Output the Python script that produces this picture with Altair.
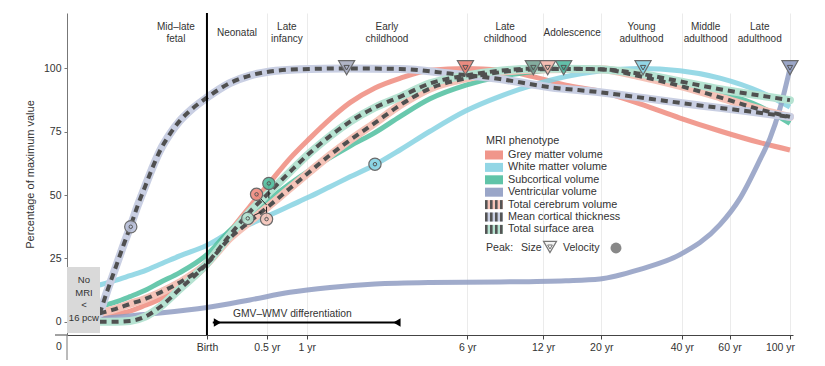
import math
import pandas as pd
import altair as alt

FONT = "Liberation Sans"
TXT = "#333333"

# ---------------- axes ----------------
TICK_YEARS = [0, 0.5, 1, 6, 12, 20, 40, 60, 100]
TICK_LABELS = ["Birth", "0.5 yr", "1 yr", "6 yr", "12 yr", "20 yr", "40 yr", "60 yr", "100 yr"]
BIRTH_DAYS = 280  # days post-conception at birth
X_DOMAIN = [86.8, 37750]
Y_DOMAIN = [-5.25, 121.9]
Y_TICKS = [0, 25, 50, 75, 100]

PERIOD_LABELS = ["Mid–late\nfetal", "Neonatal", "Late\ninfancy", "Early\nchildhood",
                 "Late\nchildhood", "Adolescence", "Young\nadulthood", "Middle\nadulthood",
                 "Late\nadulthood"]
FETAL_LABEL_DAYS = 216

# ---------------- curves (age in days post-conception, % of max) ----------------
AGE_DAYS = [114, 130, 147, 167, 189, 223, 280, 339, 401, 474, 561, 663, 784, 927,
            1142, 1408, 1810, 2446, 3251, 4284, 5648, 7507, 10492, 14663, 20488, 28635, 36805]
GMV = [2.2, 3.0, 4.2, 6.5, 9.0, 13.5, 22.0, 35.5, 45.5, 55.0, 64.5, 72.5, 80.0, 86.5,
       92.3, 96.1, 99.3, 100.0, 99.4, 96.8, 93.4, 91.0, 86.0, 80.4, 75.3, 70.7, 67.8]
WMV = [14.5, 16.3, 18.2, 20.2, 22.7, 26.0, 30.2, 35.2, 38.5, 42.1, 45.8, 49.4, 53.3, 57.2,
       62.0, 67.8, 75.2, 83.3, 89.0, 93.4, 96.8, 99.0, 100.0, 99.1, 96.2, 90.8, 84.8]
SGMV = [5.9, 7.7, 9.9, 12.4, 15.5, 19.4, 26.5, 36.0, 42.1, 48.5, 54.5, 59.9, 64.8, 69.4,
        74.7, 81.0, 88.0, 93.4, 96.8, 98.7, 99.8, 100.0, 97.9, 94.6, 90.6, 85.0, 78.3]
TCV = [3.3, 5.0, 7.0, 9.0, 11.5, 15.5, 23.0, 33.0, 39.6, 46.0, 52.7, 59.3, 65.8, 71.7,
       78.5, 85.5, 92.1, 96.1, 98.5, 99.6, 99.8, 99.7, 96.9, 93.1, 88.6, 83.8, 80.9]
SA = [0.0, 0.0, 0.3, 2.0, 5.8, 12.9, 23.0, 34.2, 43.4, 51.3, 59.2, 66.7, 73.3, 79.0,
      84.6, 88.8, 94.1, 97.2, 99.1, 99.9, 99.9, 99.7, 97.9, 94.9, 91.8, 89.3, 87.5]

VENT_AGE = [114, 147, 189, 280, 401, 561, 784, 1142, 1810, 3251, 5648, 7507, 10492,
            14663, 20488, 24222, 28635, 31133, 33851, 36805]
VENT = [1.3, 2.3, 3.4, 5.6, 8.6, 11.6, 13.5, 14.9, 15.5, 15.7, 16.2, 16.9, 20.7,
        26.5, 38.3, 48.7, 64.0, 72.4, 84.2, 100.0]

CT_AGE = [114, 121, 130, 139, 148, 157, 167, 177, 189, 205, 223, 247, 280, 339, 401,
          474, 610, 888, 1408, 2139, 3251, 4939, 7507, 11405, 17330, 26333, 36805]
CT = [3.0, 11.5, 21.0, 30.0, 38.0, 46.0, 53.5, 60.5, 67.5, 74.0, 79.3, 84.0, 88.5, 94.2,
      97.2, 98.8, 99.7, 100.0, 99.8, 98.0, 95.8, 92.6, 90.6, 88.0, 85.4, 83.0, 80.9]

# ---------------- phenotypes ----------------
PHENO = ["Grey matter volume", "White matter volume", "Subcortical volume", "Ventricular volume",
         "Total cerebrum volume", "Mean cortical thickness", "Total surface area"]
SOLID_COL = ["#EE8B7E", "#86D2E2", "#4FBE9F", "#8F9CC2"]
BAND_COL = ["#F5C3B8", "#C9CFE3", "#B6E3D2"]
DASH_COL = "#505050"

# peaks of size (years after birth)
PEAK_PHENO = ["Mean cortical thickness", "Grey matter volume", "Total surface area",
              "Total cerebrum volume", "Subcortical volume", "White matter volume",
              "Ventricular volume"]
PEAK_YEARS = [1.7, 5.9, 11.0, 12.5, 14.4, 28.7, 100.0]
PEAK_FILL = ["#A3A8BC", "#E5786B", "#6F9E8E", "#F2B2A6", "#48B49A", "#7FCEE0", "#8A97BD"]

# peaks of velocity: marker position and the curve point it refers to
VEL_PHENO = ["Mean cortical thickness", "White matter volume", "Grey matter volume",
             "Subcortical volume", "Total surface area", "Total cerebrum volume"]
VEL_AGE = [148, 1142, 424, 470, 394, 461]
VEL_VAL = [37.5, 62.2, 50.3, 54.6, 40.8, 40.5]
VEL_END_AGE = [148, 1142, 461, 470, 442, 461]
VEL_END_VAL = [37.5, 62.2, 46.1, 48.7, 43.4, 45.4]
VEL_FILL = ["#B9C0D8", "#86D2E2", "#EE8B7E", "#4FBE9F", "#B6E3D2", "#F5C3B8"]

# GMV–WMV differentiation arrow (days post-conception)
ARROW_AGE = [294, 1408]
ARROW_HEAD_AGE = [305.7, 1373]

W, H = 726, 322


def yr2days(y):
    return BIRTH_DAYS + y * 365.25


tick_days = [yr2days(y) for y in TICK_YEARS]
bounds = [math.sqrt(a * b) for a, b in zip(tick_days[:-1], tick_days[1:])]
label_expr = "".join(f"datum.value < {b:.1f} ? '{l}' : " for b, l in zip(bounds, TICK_LABELS[:-1])) \
    + f"'{TICK_LABELS[-1]}'"

xscale = alt.Scale(type="log", domain=X_DOMAIN, nice=False)
yscale = alt.Scale(domain=Y_DOMAIN, nice=False, zero=False)
xaxis = alt.Axis(values=tick_days, labelExpr=label_expr, grid=True, gridColor="#EBEBEB",
                 gridWidth=1, tickSize=4, tickColor="#444", domainColor="#444",
                 labelFontSize=10.5, labelColor=TXT, labelPadding=3, title=None,
                 labelOffset={"condition": {"test": "datum.value > 30000", "value": -10}, "value": 0})
yaxis = alt.Axis(values=Y_TICKS, grid=False, tickSize=3, tickColor="#777", domainColor="#777",
                 labelFontSize=10.5, labelColor=TXT, labelPadding=3,
                 title="Percentage of maximum value", titleFontSize=11, titleFontWeight="normal",
                 titleColor=TXT, titleX=-37, titleY=H / 2, titleAngle=270, titleAlign="center",
                 titleBaseline="middle")


def X(f="age"):
    return alt.X(f"{f}:Q", scale=xscale, axis=xaxis)


def Y(f="value"):
    return alt.Y(f"{f}:Q", scale=yscale, axis=yaxis)


# data frames
solid_rows = []
for name, col, vals, ages in [(PHENO[0], SOLID_COL[0], GMV, AGE_DAYS), (PHENO[1], SOLID_COL[1], WMV, AGE_DAYS),
                              (PHENO[2], SOLID_COL[2], SGMV, AGE_DAYS), (PHENO[3], SOLID_COL[3], VENT, VENT_AGE)]:
    for a, v in zip(ages, vals):
        solid_rows.append({"pheno": name, "col": col, "age": a, "value": v})
solid_df = pd.DataFrame(solid_rows)

dash_rows = []
for name, col, vals, ages in [(PHENO[4], BAND_COL[0], TCV, AGE_DAYS), (PHENO[5], BAND_COL[1], CT, CT_AGE),
                              (PHENO[6], BAND_COL[2], SA, AGE_DAYS)]:
    for a, v in zip(ages, vals):
        dash_rows.append({"pheno": name, "col": col, "age": a, "value": v})
dash_df = pd.DataFrame(dash_rows)

peak_df = pd.DataFrame({"pheno": PEAK_PHENO, "age": [yr2days(y) for y in PEAK_YEARS],
                        "value": [100.3] * len(PEAK_YEARS), "fill": PEAK_FILL})
vel_df = pd.DataFrame({"pheno": VEL_PHENO, "age": VEL_AGE, "value": VEL_VAL,
                       "age2": VEL_END_AGE, "value2": VEL_END_VAL, "fill": VEL_FILL})
conn_df = vel_df[(vel_df.age != vel_df.age2) | (vel_df.value != vel_df.value2)]

period_age = [FETAL_LABEL_DAYS] + bounds
period_df = pd.DataFrame({"age": period_age, "text": PERIOD_LABELS})
period_df["lines"] = period_df["text"].str.count("\n") + 1

solid = alt.Chart(solid_df).mark_line(strokeWidth=5, opacity=0.85, interpolate="monotone").encode(
    x=X(), y=Y(), color=alt.Color("col:N", scale=None))
band = alt.Chart(dash_df).mark_line(strokeWidth=8, interpolate="monotone", strokeCap="round").encode(
    x=X(), y=Y(), color=alt.Color("col:N", scale=None))
dash = alt.Chart(dash_df).mark_line(strokeWidth=4, strokeDash=[7, 5], color=DASH_COL,
                                    interpolate="monotone").encode(x=X(), y=Y(), detail="pheno:N")

birth = alt.Chart(pd.DataFrame({"age": [BIRTH_DAYS]})).mark_rule(color="black", strokeWidth=2).encode(x=X())

periods1 = alt.Chart(period_df[period_df.lines == 1]).mark_text(
    fontSize=10, color=TXT, baseline="middle", align="center").encode(
    x=X(), y=alt.value(20), text="text:N")
periods2 = alt.Chart(period_df[period_df.lines == 2]).mark_text(
    lineBreak="\n", fontSize=10, color=TXT, baseline="middle", align="center", lineHeight=12).encode(
    x=X(), y=alt.value(14), text="text:N")

box_df = pd.DataFrame({"age": [X_DOMAIN[0]], "age2": [114.4], "value": [-4.5], "value2": [21.6]})
box = alt.Chart(box_df).mark_rect(color="#D9D9D9").encode(x=X(), x2="age2:Q", y=Y(), y2="value2:Q")
box_txt = alt.Chart(pd.DataFrame({"age": [100], "value": [16.4], "text": ["No\nMRI\n<\n16 pcw"]})).mark_text(
    lineBreak="\n", fontSize=9.5, color=TXT, lineHeight=12.6, baseline="middle", align="center").encode(
    x=X(), y=Y(), text="text:N")

arrow_df = pd.DataFrame({"age": [ARROW_AGE[0]], "age2": [ARROW_AGE[1]], "value": [-0.3]})
arrow = alt.Chart(arrow_df).mark_rule(color="black", strokeWidth=2).encode(x=X(), x2="age2:Q", y=Y())
heads_df = pd.DataFrame({"age": ARROW_HEAD_AGE, "value": [-0.3, -0.3],
                         "shape": ["triangle-right", "triangle-left"]})
heads = alt.Chart(heads_df).mark_point(filled=True, color="black", size=70, opacity=1).encode(
    x=X(), y=Y(), shape=alt.Shape("shape:N", scale=None))
arrow_txt = alt.Chart(pd.DataFrame({"age": [348], "value": [3.0], "text": ["GMV–WMV differentiation"]})).mark_text(
    fontSize=10.3, color=TXT, align="left", baseline="middle").encode(x=X(), y=Y(), text="text:N")

# markers
conn = alt.Chart(conn_df).mark_rule(color="#222", strokeWidth=1).encode(x=X(), x2="age2:Q", y=Y(), y2="value2:Q")
vel = alt.Chart(vel_df).mark_point(shape="circle", size=150, filled=True, stroke="#6a6a6a",
                                   strokeWidth=1.2, opacity=1, fillOpacity=0.9).encode(
    x=X(), y=Y(), fill=alt.Fill("fill:N", scale=None))
vel_in = alt.Chart(vel_df).mark_point(shape="circle", size=12, filled=False, color="#555",
                                      strokeWidth=1, opacity=1).encode(x=X(), y=Y())
peak = alt.Chart(peak_df).mark_point(shape="triangle-down", size=260, filled=True, stroke="#6a6a6a",
                                     strokeWidth=1.2, opacity=1, fillOpacity=0.85).encode(
    x=X(), y=Y(), fill=alt.Fill("fill:N", scale=None))
peak_in = alt.Chart(peak_df).mark_point(shape="triangle-down", size=28, filled=False, color="#555",
                                        strokeWidth=1, opacity=1).encode(x=X(), y=Y())

# extra axis bits: "0" label at the far left, axis stubs
zero_lbl = alt.Chart(pd.DataFrame({"t": ["0"]})).mark_text(fontSize=10.5, color=TXT, baseline="middle").encode(
    x=alt.value(-8), y=alt.value(334), text="t:N")
xstub = alt.Chart(pd.DataFrame({"t": [0]})).mark_rule(color="#444").encode(
    x=alt.value(-12), x2=alt.value(0), y=alt.value(H))
ystub = alt.Chart(pd.DataFrame({"t": [0]})).mark_rule(color="#777").encode(
    x=alt.value(0), y=alt.value(H), y2=alt.value(H + 25))

# ---------------- manual legend ----------------
LEG_X, LEG_Y0, LEG_DY = 418, 142, 12.4
leg_layers = []
leg_layers.append(alt.Chart(pd.DataFrame({"t": ["MRI phenotype"]})).mark_text(
    fontSize=10.8, color=TXT, align="left", baseline="middle").encode(
    x=alt.value(LEG_X + 1), y=alt.value(LEG_Y0 - 14), text="t:N"))
swatch_cols = SOLID_COL + BAND_COL
for i, (name, col) in enumerate(zip(PHENO, swatch_cols)):
    yc = LEG_Y0 + i * LEG_DY
    d = pd.DataFrame({"t": [name]})
    leg_layers.append(alt.Chart(d).mark_rect(color=col, opacity=0.9 if i < 4 else 1).encode(
        x=alt.value(LEG_X), x2=alt.value(LEG_X + 18), y=alt.value(yc - 4.5), y2=alt.value(yc + 4.5)))
    if i >= 4:
        for k in range(4):
            leg_layers.append(alt.Chart(d).mark_rect(color="#555").encode(
                x=alt.value(LEG_X + k * 5), x2=alt.value(LEG_X + k * 5 + 2.6),
                y=alt.value(yc - 4.5), y2=alt.value(yc + 4.5)))
    leg_layers.append(alt.Chart(d).mark_text(fontSize=10.8, color=TXT, align="left", baseline="middle").encode(
        x=alt.value(LEG_X + 23), y=alt.value(yc), text="t:N"))
py = 235
for txt, px in [("Peak:", LEG_X + 1), ("Size", LEG_X + 36), ("Velocity", LEG_X + 78)]:
    leg_layers.append(alt.Chart(pd.DataFrame({"t": [txt]})).mark_text(
        fontSize=10.6, color=TXT, align="left", baseline="middle").encode(
        x=alt.value(px), y=alt.value(py), text="t:N"))
one = pd.DataFrame({"t": [0]})
leg_layers.append(alt.Chart(one).mark_point(shape="triangle-down", size=170, filled=True, fill="#F4F4F4",
                                            stroke="#777", strokeWidth=1.2, opacity=1).encode(
    x=alt.value(LEG_X + 65), y=alt.value(py - 1)))
leg_layers.append(alt.Chart(one).mark_point(shape="triangle-down", size=22, filled=False, color="#777",
                                            strokeWidth=1, opacity=1).encode(
    x=alt.value(LEG_X + 65), y=alt.value(py - 1)))
leg_layers.append(alt.Chart(one).mark_point(shape="circle", size=120, filled=True, color="#888",
                                            opacity=1).encode(
    x=alt.value(LEG_X + 131), y=alt.value(py)))

chart = alt.layer(
    periods1, periods2, solid, band, dash, birth, box, box_txt, arrow, heads, arrow_txt,
    conn, vel, vel_in, peak, peak_in, zero_lbl, xstub, ystub, *leg_layers
).properties(
    width=W, height=H,
    autosize=alt.AutoSizeParams(type="none"),
    padding={"left": 59, "top": 5, "right": 24, "bottom": 29},
).configure(font=FONT).configure_view(stroke=None)

chart.save("out.html", embed_options={"renderer": "svg", "actions": False})
